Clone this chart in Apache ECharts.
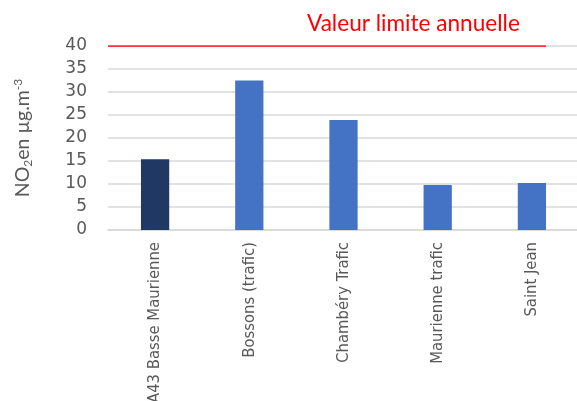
<!DOCTYPE html>
<html>
<head>
<meta charset="utf-8">
<script src="https://cdn.jsdelivr.net/npm/echarts@6/dist/echarts.min.js"></script>
<style>
html,body{margin:0;padding:0;background:#fff;}
#chart{width:577px;height:401px;}
</style>
</head>
<body>
<div id="chart"></div>
<script>
const categories = ['A43 Basse Maurienne', 'Bossons (trafic)', 'Chambéry Trafic', 'Maurienne trafic', 'Saint Jean'];
const values = [15.4, 32.5, 23.9, 9.8, 10.2];
const barColors = ['#203864', '#4472c4', '#4472c4', '#4472c4', '#4472c4'];
const yTicks = [0, 5, 10, 15, 20, 25, 30, 35, 40];
const limitValue = 40;
const limitSpan = [0, 4.65];
const limitLabel = 'Valeur limite annuelle';

const chart = echarts.init(document.getElementById('chart'));
chart.setOption({
  animation: false,
  backgroundColor: '#fff',
  title: {
    text: limitLabel,
    left: 302,
    top: 7,
    textStyle: { color: '#ff0000', fontFamily: 'Lato', fontWeight: 'normal', fontSize: 22.6 }
  },
  grid: { left: 108, top: 46, width: 471, height: 184, containLabel: false, outerBoundsMode: 'none' },
  xAxis: [{
    type: 'category',
    data: categories,
    axisLine: { show: true, lineStyle: { color: '#d9d9d9', width: 1.5 } },
    axisTick: { show: false },
    axisLabel: {
      rotate: 90,
      margin: 12,
      interval: 0,
      color: '#595959',
      fontFamily: "'DejaVu Sans Condensed', Roboto, sans-serif",
      fontSize: 16.5
    }
  }, {
    type: 'value',
    min: 0,
    max: categories.length,
    show: false
  }],
  yAxis: {
    type: 'value',
    min: yTicks[0],
    max: yTicks[yTicks.length - 1],
    interval: 5,
    axisLine: { show: false },
    axisTick: { show: false },
    splitLine: { lineStyle: { color: '#d9d9d9', width: 1.5 } },
    axisLabel: { color: '#595959', fontFamily: 'DejaVu Sans', fontSize: 17, margin: 21 },
    name: '{n|NO}{sub|2}{n|en µg.m}{sup|-3}',
    nameLocation: 'middle',
    nameRotate: 90,
    nameGap: 72,
    nameTextStyle: {
      rich: {
        n: { fontFamily: 'Lato', fontSize: 19.5, color: '#595959', lineHeight: 26, verticalAlign: 'middle' },
        sub: { fontFamily: 'Lato', fontSize: 12, color: '#595959', lineHeight: 26, verticalAlign: 'bottom', padding: [0, 0, 2, 0] },
        sup: { fontFamily: 'Lato', fontSize: 12, color: '#595959', lineHeight: 26, verticalAlign: 'top', padding: [2, 0, 0, 0] }
      }
    }
  },
  series: [{
    type: 'bar',
    data: values.map((v, i) => ({ value: v, itemStyle: { color: barColors[i] } })),
    barWidth: '30%',
    xAxisIndex: 0
  }, {
    type: 'line',
    xAxisIndex: 1,
    data: limitSpan.map(x => [x, limitValue]),
    symbol: 'none',
    lineStyle: { color: '#ff0000', width: 1.5 },
    z: 5
  }]
});
</script>
</body>
</html>
